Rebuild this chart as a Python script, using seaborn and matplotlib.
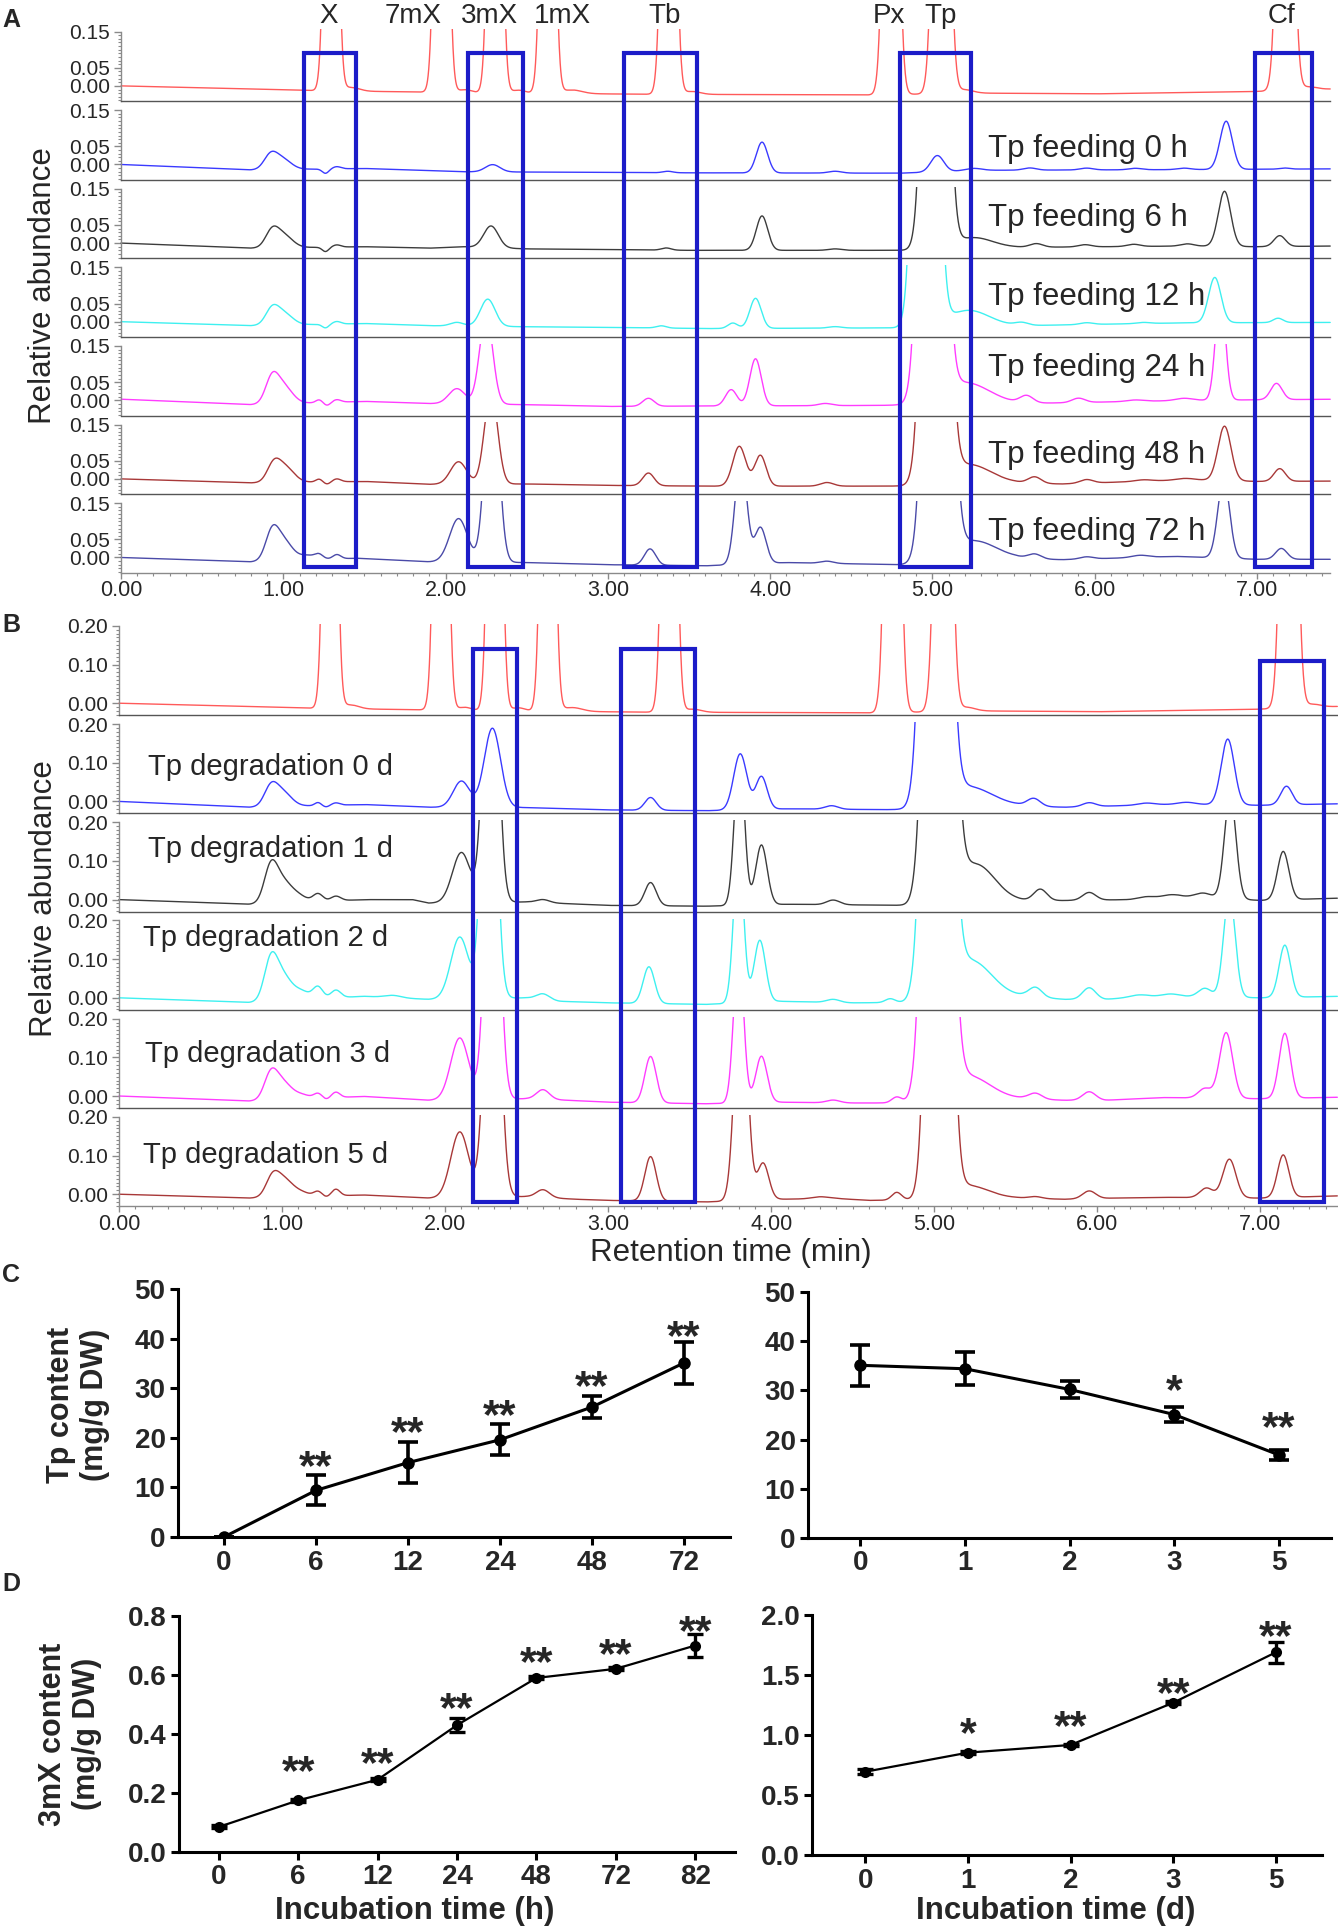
"""
Tp feeding / degradation chromatograms (A, B) and Tp / 3mX content time courses (C, D).
"""
import matplotlib
matplotlib.use("Agg")  # Non-interactive backend
import matplotlib.pyplot as plt
import matplotlib.transforms as mtransforms
from matplotlib.patches import Rectangle
from matplotlib.ticker import FixedLocator
import numpy as np
import seaborn as sns

sns.set_theme(style="ticks")
plt.rcParams["font.family"] = ["Liberation Sans", "DejaVu Sans"]

W, H = 1338, 1932

# ---------------------------------------------------------------- data ----
RT = np.linspace(0, 7.5, 4000)  # retention time grid (min)

# peak labels above panel A (retention time, label)
PEAK_NAMES = ["X", "7mX", "3mX", "1mX", "Tb", "Px", "Tp", "Cf"]
PEAK_NAME_RT = [1.28, 1.80, 2.27, 2.72, 3.35, 4.73, 5.05, 7.15]

# baselines: (rt, value) ; peaks: (rt, height, width)
STD_BASE = [(0, 0.0), (1.2, -0.013), (2.0, -0.018), (3.2, -0.023), (4.6, -0.025),
            (5.3, -0.020), (6.0, -0.022), (6.95, -0.016), (7.5, -0.008)]
STD_PEAKS = [(1.295, 2.0, 0.029), (1.42, 0.010, 0.05), (1.975, 2.0, 0.030), (2.12, 0.008, 0.04),
             (2.305, 2.0, 0.030), (2.45, 0.008, 0.04), (2.63, 2.0, 0.030), (2.78, 0.010, 0.06),
             (3.375, 2.0, 0.031), (3.52, 0.008, 0.05), (4.745, 2.0, 0.033), (5.055, 2.0, 0.036),
             (5.2, 0.010, 0.05), (7.175, 2.0, 0.035), (7.32, 0.008, 0.05)]

F0_BASE = [(0, 0.0), (0.8, -0.015), (1.5, -0.011), (2.1, -0.020), (3.5, -0.023), (4.8, -0.024),
           (5.3, -0.016), (6.6, -0.014), (7.5, -0.012)]
F0_PEAKS = [(0.92, 0.035, 0.04), (0.99, 0.030, 0.055), (1.26, -0.012, 0.02), (1.33, 0.006, 0.025),
            (2.29, 0.020, 0.045), (3.37, 0.004, 0.03), (3.95, 0.085, 0.035), (4.40, 0.005, 0.04),
            (5.03, 0.045, 0.04), (5.25, 0.006, 0.05), (5.60, 0.006, 0.04), (5.95, 0.005, 0.04),
            (6.25, 0.004, 0.04), (6.55, 0.004, 0.04), (6.81, 0.133, 0.038), (7.17, 0.003, 0.03)]

F6_BASE = [(0, 0.0), (0.8, -0.014), (1.5, -0.010), (1.9, -0.014), (2.1, -0.010), (2.5, -0.016),
           (3.5, -0.020), (4.8, -0.020), (5.5, -0.012), (6.6, -0.008), (7.0, -0.010), (7.5, -0.008)]
F6_PEAKS = [(0.93, 0.042, 0.04), (1.0, 0.035, 0.055), (1.26, -0.012, 0.02), (1.33, 0.006, 0.025),
            (2.28, 0.060, 0.045), (3.36, 0.006, 0.03), (3.95, 0.095, 0.035), (4.40, 0.004, 0.04),
            (5.02, 3.0, 0.049), (5.25, 0.030, 0.12), (5.64, 0.010, 0.04), (5.94, 0.006, 0.04),
            (6.24, 0.006, 0.04), (6.57, 0.006, 0.04), (6.80, 0.152, 0.038), (7.14, 0.030, 0.035)]

F12_BASE = [(0, 0.0), (0.8, -0.011), (1.5, -0.005), (1.9, -0.011), (2.5, -0.014), (3.1, -0.016),
            (3.6, -0.019), (4.8, -0.017), (5.8, -0.009), (6.3, -0.005), (6.6, -0.003), (7.5, -0.002)]
F12_PEAKS = [(0.93, 0.040, 0.04), (1.0, 0.033, 0.055), (1.26, -0.010, 0.02), (1.33, 0.007, 0.025),
             (2.07, 0.010, 0.04), (2.26, 0.075, 0.045), (3.33, 0.006, 0.03), (3.77, 0.015, 0.03),
             (3.91, 0.083, 0.035), (4.40, 0.004, 0.04), (4.96, 3.0, 0.049), (5.22, 0.045, 0.13),
             (5.55, 0.008, 0.04), (5.95, 0.005, 0.04), (6.30, 0.003, 0.04), (6.74, 0.125, 0.038),
             (7.13, 0.012, 0.03)]

F24_BASE = [(0, 0.003), (0.8, -0.012), (1.5, -0.003), (1.9, -0.009), (2.5, -0.012), (3.0, -0.017),
            (3.5, -0.016), (4.8, -0.014), (5.8, -0.007), (6.6, 0.0), (7.5, 0.003)]
F24_PEAKS = [(0.93, 0.065, 0.04), (1.0, 0.048, 0.055), (1.22, 0.008, 0.02), (1.27, -0.008, 0.02),
             (1.33, 0.007, 0.025), (2.07, 0.042, 0.05), (2.25, 0.25, 0.04), (3.25, 0.022, 0.035),
             (3.76, 0.045, 0.035), (3.91, 0.130, 0.035), (4.34, 0.006, 0.04), (5.0, 3.0, 0.053),
             (5.2, 0.060, 0.15), (5.58, 0.020, 0.04), (5.90, 0.012, 0.04), (6.25, 0.004, 0.05),
             (6.55, 0.006, 0.05), (6.775, 0.30, 0.03), (7.12, 0.045, 0.035)]

F48_BASE = [(0, 0.0), (0.8, -0.011), (1.5, -0.007), (1.9, -0.015), (2.5, -0.014), (3.0, -0.018),
            (3.6, -0.020), (4.8, -0.020), (5.5, -0.012), (5.8, -0.014), (6.6, -0.002), (7.0, -0.007),
            (7.5, -0.006)]
F48_PEAKS = [(0.94, 0.045, 0.04), (1.01, 0.042, 0.055), (1.22, 0.008, 0.02), (1.27, -0.006, 0.02),
             (1.33, 0.008, 0.025), (2.08, 0.062, 0.05), (2.28, 0.26, 0.04), (3.25, 0.035, 0.035),
             (3.81, 0.110, 0.04), (3.94, 0.085, 0.035), (4.35, 0.010, 0.04), (5.02, 3.0, 0.053),
             (5.22, 0.055, 0.14), (5.63, 0.018, 0.04), (5.95, 0.010, 0.04), (6.30, 0.004, 0.05),
             (6.55, 0.004, 0.05), (6.80, 0.150, 0.04), (7.14, 0.035, 0.035)]

F72_BASE = [(0, 0.0), (0.8, -0.012), (1.45, -0.002), (1.9, -0.012), (2.5, -0.014), (3.0, -0.020),
            (3.6, -0.023), (4.1, -0.014), (4.8, -0.020), (5.5, -0.003), (5.8, -0.006), (6.5, 0.003),
            (7.0, -0.005), (7.5, -0.005)]
F72_PEAKS = [(0.93, 0.072, 0.04), (1.0, 0.055, 0.055), (1.15, 0.012, 0.05), (1.22, 0.012, 0.025),
             (1.33, 0.012, 0.025), (2.08, 0.120, 0.055), (2.285, 0.58, 0.04), (3.26, 0.045, 0.035),
             (3.82, 0.30, 0.035), (3.94, 0.100, 0.035), (4.35, 0.006, 0.04), (5.035, 3.0, 0.055),
             (5.25, 0.055, 0.14), (5.63, 0.013, 0.04), (5.95, 0.006, 0.04), (6.28, 0.006, 0.05),
             (6.795, 0.22, 0.036), (7.15, 0.030, 0.035)]

D0_BASE = [(0, 0.0), (0.8, -0.015), (1.5, -0.008), (1.9, -0.015), (2.5, -0.016), (3.0, -0.022),
           (3.6, -0.024), (4.1, -0.019), (4.85, -0.022), (5.5, -0.012), (5.8, -0.015), (6.5, -0.007),
           (7.0, -0.010), (7.5, -0.006)]
D0_PEAKS = [(0.93, 0.045, 0.04), (1.0, 0.038, 0.055), (1.22, 0.008, 0.02), (1.27, -0.004, 0.02),
            (1.33, 0.006, 0.025), (2.10, 0.068, 0.05), (2.29, 0.205, 0.05), (3.26, 0.033, 0.035),
            (3.81, 0.145, 0.04), (3.94, 0.085, 0.035), (4.37, 0.009, 0.04), (5.01, 3.0, 0.056),
            (5.2, 0.055, 0.15), (5.61, 0.020, 0.04), (5.95, 0.010, 0.04), (6.30, 0.005, 0.05),
            (6.55, 0.005, 0.05), (6.80, 0.170, 0.04), (7.16, 0.048, 0.035)]

D1_BASE = [(0, 0.0), (0.8, -0.012), (1.5, 0.0), (1.8, 0.0), (1.9, -0.009), (2.5, -0.006),
           (3.0, -0.015), (3.6, -0.017), (4.1, -0.012), (4.85, -0.015), (5.5, -0.004), (6.2, 0.0),
           (6.5, 0.008), (7.0, -0.002), (7.5, 0.004)]
D1_PEAKS = [(0.93, 0.085, 0.04), (1.0, 0.055, 0.055), (1.1, 0.015, 0.05), (1.22, 0.020, 0.03),
            (1.33, 0.012, 0.03), (2.10, 0.130, 0.055), (2.28, 0.95, 0.04), (2.60, 0.008, 0.04),
            (3.26, 0.060, 0.035), (3.805, 0.40, 0.03), (3.94, 0.155, 0.035), (4.38, 0.012, 0.04),
            (5.03, 3.0, 0.058), (5.25, 0.100, 0.12), (5.65, 0.030, 0.04), (5.95, 0.020, 0.04),
            (6.30, 0.005, 0.05), (6.45, 0.006, 0.05), (6.65, 0.012, 0.05), (6.815, 0.27, 0.035),
            (7.14, 0.125, 0.035)]

D2_BASE = [(0, 0.0), (0.8, -0.012), (1.5, 0.004), (1.9, -0.004), (2.5, 0.0), (2.7, -0.009),
           (3.0, -0.013), (3.6, -0.017), (4.05, -0.009), (4.5, -0.013), (4.85, -0.012), (5.55, 0.004),
           (5.8, -0.004), (6.05, -0.004), (6.3, 0.004), (6.5, 0.004), (7.0, 0.0), (7.5, 0.004)]
D2_PEAKS = [(0.93, 0.095, 0.04), (1.0, 0.065, 0.055), (1.12, 0.020, 0.05), (1.22, 0.030, 0.03),
            (1.33, 0.020, 0.03), (1.68, 0.006, 0.05), (2.09, 0.160, 0.055), (2.27, 0.95, 0.04),
            (2.60, 0.015, 0.04), (3.25, 0.095, 0.035), (3.80, 0.40, 0.03), (3.93, 0.160, 0.035),
            (4.38, 0.008, 0.04), (4.73, 0.010, 0.03), (5.02, 3.0, 0.058), (5.22, 0.100, 0.13),
            (5.62, 0.025, 0.04), (5.95, 0.030, 0.04), (6.25, 0.005, 0.05), (6.45, 0.006, 0.05),
            (6.66, 0.022, 0.04), (6.81, 0.27, 0.035), (7.15, 0.135, 0.035)]

D3_BASE = [(0, 0.0), (0.8, -0.013), (1.5, -0.001), (1.9, -0.011), (2.5, -0.007), (2.75, -0.011),
           (3.0, -0.016), (3.6, -0.020), (4.05, -0.016), (4.5, -0.018), (4.85, -0.018), (5.55, -0.007),
           (5.8, -0.011), (6.05, -0.011), (6.4, -0.004), (7.0, -0.007), (7.5, -0.003)]
D3_PEAKS = [(0.93, 0.060, 0.04), (1.0, 0.045, 0.055), (1.12, 0.010, 0.05), (1.22, 0.012, 0.025),
            (1.27, -0.004, 0.02), (1.33, 0.014, 0.025), (2.09, 0.160, 0.055), (2.29, 0.95, 0.04),
            (2.60, 0.025, 0.04), (3.26, 0.120, 0.035), (3.80, 0.40, 0.03), (3.94, 0.120, 0.035),
            (4.38, 0.007, 0.04), (4.77, 0.015, 0.03), (5.02, 3.0, 0.057), (5.2, 0.065, 0.14),
            (5.62, 0.015, 0.04), (5.95, 0.022, 0.04), (6.66, 0.025, 0.04), (6.79, 0.170, 0.04),
            (7.15, 0.168, 0.035)]

D5_BASE = [(0, 0.0), (0.8, -0.010), (1.5, -0.002), (1.9, -0.010), (2.5, -0.006), (2.8, -0.013),
           (3.0, -0.016), (3.6, -0.020), (4.05, -0.013), (4.4, -0.011), (4.6, -0.016), (4.85, -0.015),
           (5.5, -0.010), (5.8, -0.013), (6.1, -0.010), (6.4, -0.008), (7.0, -0.010), (7.5, -0.004)]
D5_PEAKS = [(0.94, 0.045, 0.04), (1.01, 0.045, 0.055), (1.12, 0.010, 0.05), (1.22, 0.012, 0.025),
            (1.27, -0.003, 0.02), (1.33, 0.017, 0.025), (2.09, 0.170, 0.055), (2.29, 0.95, 0.042),
            (2.60, 0.020, 0.04), (3.26, 0.115, 0.035), (3.815, 0.62, 0.037), (3.95, 0.095, 0.035),
            (4.30, 0.005, 0.05), (4.77, 0.020, 0.03), (5.03, 3.0, 0.05), (5.2, 0.035, 0.13),
            (5.62, 0.005, 0.04), (5.95, 0.020, 0.04), (6.67, 0.025, 0.04), (6.81, 0.100, 0.04),
            (7.14, 0.110, 0.035)]

FEED_LABELS = ["Tp feeding 0 h", "Tp feeding 6 h", "Tp feeding 12 h",
               "Tp feeding 24 h", "Tp feeding 48 h", "Tp feeding 72 h"]
FEED_LABEL_Y = [0.044, 0.069, 0.067, 0.089, 0.067, 0.069]
DEG_LABELS = ["Tp degradation 0 d", "Tp degradation 1 d", "Tp degradation 2 d",
              "Tp degradation 3 d", "Tp degradation 5 d"]
DEG_LABEL_X = [0.175, 0.175, 0.147, 0.16, 0.147]
DEG_LABEL_Y = [0.088, 0.130, 0.156, 0.109, 0.101]

FEED_COLORS = ["#ff5a5a", "#3a3aff", "#3c3c3c", "#3ef0f0", "#ff3cff", "#a83838", "#4a4aa8"]
DEG_COLORS = ["#ff5a5a", "#3a3aff", "#3c3c3c", "#3ef0f0", "#ff3cff", "#a83838"]

# highlighted windows (rt start, rt end)
A_BOXES = [(1.13, 1.45), (2.14, 2.48), (3.10, 3.55), (4.80, 5.24), (6.99, 7.34)]
B_BOXES = [(2.17, 2.44), (3.08, 3.53), (7.00, 7.39)]
B_BOX_TOP = [0.14, 0.14, 0.11]

# time courses: means, SD, significance
C_FEED_T = ["0", "6", "12", "24", "48", "72"]
C_FEED_MEAN = [0.0, 9.4, 15.0, 19.6, 26.2, 35.1]
C_FEED_SD = [0.0, 3.0, 4.2, 3.1, 2.3, 4.2]
C_FEED_SIG = ["", "**", "**", "**", "**", "**"]
C_FEED_SIG_Y = [0, 16.5, 23.4, 26.8, 32.7, 42.8]

C_DEG_T = ["0", "1", "2", "3", "5"]
C_DEG_MEAN = [35.1, 34.4, 30.2, 25.1, 16.9]
C_DEG_SD = [4.2, 3.4, 1.7, 1.6, 1.0]
C_DEG_SIG = ["", "", "", "*", "**"]
C_DEG_SIG_Y = [0, 0, 0, 32.4, 24.7]

D_FEED_T = ["0", "6", "12", "24", "48", "72", "82"]
D_FEED_MEAN = [0.085, 0.175, 0.245, 0.430, 0.590, 0.621, 0.700]
D_FEED_SD = [0.005, 0.006, 0.006, 0.024, 0.005, 0.005, 0.038]
D_FEED_SIG = ["", "**", "**", "**", "**", "**", "**"]
D_FEED_SIG_Y = [0, 0.313, 0.339, 0.527, 0.681, 0.709, 0.787]

D_DEG_T = ["0", "1", "2", "3", "5"]
D_DEG_MEAN = [0.694, 0.853, 0.917, 1.269, 1.689]
D_DEG_SD = [0.02, 0.01, 0.01, 0.012, 0.09]
D_DEG_SIG = ["", "*", "**", "**", "**"]
D_DEG_SIG_Y = [0, 1.11, 1.167, 1.444, 1.917]

BOX_COLOR = "#1c1cc8"


# ----------------------------------------------------------- helpers ----
def px_axes(fig, x0, y0, x1, y1):
    return fig.add_axes([x0 / W, 1 - y1 / H, (x1 - x0) / W, (y1 - y0) / H])


def build_trace(base, peaks):
    y = np.interp(RT, [b[0] for b in base], [b[1] for b in base])
    for rt, h, w in peaks:
        y = y + h * np.exp(-0.5 * ((RT - rt) / w) ** 2)
    return y


def yfrac(ax, v):
    pos = ax.get_position()
    lo, hi = ax.get_ylim()
    return pos.y0 + (v - lo) / (hi - lo) * pos.height


def draw_block(fig, top, row_h, x0, x1, xmax, ylim, clip, majors, traces, colors):
    axes = []
    n = len(traces)
    for i, (y, color) in enumerate(zip(traces, colors)):
        ax = px_axes(fig, x0, top + i * row_h, x1, top + (i + 1) * row_h)
        ax.patch.set_alpha(0)
        sns.lineplot(x=RT, y=y, ax=ax, color=color, linewidth=1.0, estimator=None)
        ax.lines[-1].set_clip_path(
            Rectangle((-1, -1), 20, 1 + clip, transform=ax.transData))
        ax.set_xlim(0, xmax)
        ax.set_ylim(*ylim)
        ax.set_xlabel("")
        ax.set_ylabel("")
        for s in ("top", "right"):
            ax.spines[s].set_visible(False)
        ax.spines["left"].set_color("#8a8a8a")
        ax.spines["left"].set_linewidth(1.0)
        ax.spines["left"].set_bounds(ylim[0], majors[-1])
        ax.spines["bottom"].set_color("#555555")
        ax.spines["bottom"].set_linewidth(1.0)
        ax.set_yticks(majors)
        ax.set_yticklabels([f"{v:.2f}" for v in majors])
        minor = [k / 100 for k in range(int(np.ceil(ylim[0] * 100)), int(round(majors[-1] * 100)) + 1)]
        ax.yaxis.set_minor_locator(FixedLocator(minor))
        ax.tick_params(axis="y", which="major", direction="out", length=5, width=1.0,
                       color="#8a8a8a", labelsize=15, pad=3, left=True)
        ax.tick_params(axis="y", which="minor", direction="out", length=2.5, width=0.8,
                       color="#8a8a8a", left=True)
        if i == n - 1:
            ax.set_xticks(range(8))
            ax.set_xticklabels([f"{v:.2f}" for v in range(8)])
            ax.xaxis.set_minor_locator(FixedLocator([k / 10 for k in range(0, 75)]))
            ax.tick_params(axis="x", which="major", direction="out", length=4, width=1.0,
                           color="#8a8a8a", labelsize=15.5, pad=1.5, bottom=True)
            ax.tick_params(axis="x", which="minor", direction="out", length=2.5, width=0.8,
                           color="#8a8a8a", bottom=True)
            ax.spines["bottom"].set_color("#8a8a8a")
        else:
            ax.tick_params(axis="x", which="both", bottom=False, labelbottom=False)
        axes.append(ax)
    return axes


def draw_course(ax, labels, means, sds, sig, sig_y, ylim, yticks, yfmt, lw, ms, elw, cap):
    pos = np.arange(len(labels))
    sns.lineplot(x=pos, y=means, ax=ax, color="black", linewidth=lw, marker="o",
                 markersize=ms, markeredgewidth=0, estimator=None)
    ax.errorbar(pos, means, yerr=sds, fmt="none", ecolor="black", elinewidth=elw,
                capsize=cap, capthick=elw, zorder=3)
    for x, s, yv in zip(pos, sig, sig_y):
        if s:
            ax.annotate(s, (x, yv), xytext=(0, -0.56 * 31), textcoords="offset points",
                        ha="center", va="baseline", fontsize=31, fontweight="bold",
                        annotation_clip=False)
    ax.set_xlim(-0.5, len(labels) - 0.5)
    ax.set_ylim(*ylim)
    ax.set_xticks(pos)
    ax.set_xticklabels(labels, fontsize=20, fontweight="bold")
    ax.set_yticks(yticks)
    ax.set_yticklabels([yfmt.format(v) for v in yticks], fontsize=20, fontweight="bold")
    ax.set_xlabel("")
    ax.set_ylabel("")
    for s in ("top", "right"):
        ax.spines[s].set_visible(False)
    for s in ("left", "bottom"):
        ax.spines[s].set_color("black")
        ax.spines[s].set_linewidth(2.2)
    ax.tick_params(axis="both", which="major", direction="out", length=6, width=2.2,
                   color="black", pad=3, left=True, bottom=True)
    ax.patch.set_alpha(0)


# -------------------------------------------------------------- figure ----
fig = plt.figure(figsize=(W / 100, H / 100), dpi=100)

# panel A: Tp feeding
feed_traces = [build_trace(STD_BASE, STD_PEAKS)] + [
    build_trace(b, p) for b, p in [(F0_BASE, F0_PEAKS), (F6_BASE, F6_PEAKS), (F12_BASE, F12_PEAKS),
                                   (F24_BASE, F24_PEAKS), (F48_BASE, F48_PEAKS), (F72_BASE, F72_PEAKS)]]
a_axes = draw_block(fig, 22.5, 78.6, 121, 1330, 7.45, (-0.042, 0.175), 0.156,
                    [0.0, 0.05, 0.15], feed_traces, FEED_COLORS)
for ax, lab, ly in zip(a_axes[1:], FEED_LABELS, FEED_LABEL_Y):
    ax.text(5.34, ly, lab, fontsize=22.5, ha="left", va="center", zorder=5)

# panel B: Tp degradation
deg_traces = [build_trace(STD_BASE, STD_PEAKS)] + [
    build_trace(b, p) for b, p in [(D0_BASE, D0_PEAKS), (D1_BASE, D1_PEAKS), (D2_BASE, D2_PEAKS),
                                   (D3_BASE, D3_PEAKS), (D5_BASE, D5_PEAKS)]]
b_axes = draw_block(fig, 617, 98.2, 119, 1337, 7.47, (-0.031, 0.223), 0.205,
                    [0.0, 0.10, 0.20], deg_traces, DEG_COLORS)
for ax, lab, lx, ly in zip(b_axes[1:], DEG_LABELS, DEG_LABEL_X, DEG_LABEL_Y):
    ax.text(lx, ly, lab, fontsize=21, ha="left", va="center", zorder=5)

# highlight windows
trans_a = mtransforms.blended_transform_factory(a_axes[-1].transData, fig.transFigure)
ya_top, ya_bot = yfrac(a_axes[0], 0.092), yfrac(a_axes[-1], -0.025)
for x0, x1 in A_BOXES:
    fig.add_artist(Rectangle((x0, ya_bot), x1 - x0, ya_top - ya_bot, transform=trans_a,
                             fill=False, ec=BOX_COLOR, lw=3, zorder=10))
trans_b = mtransforms.blended_transform_factory(b_axes[-1].transData, fig.transFigure)
yb_bot = yfrac(b_axes[-1], -0.021)
for (x0, x1), top in zip(B_BOXES, B_BOX_TOP):
    yt = yfrac(b_axes[0], top)
    fig.add_artist(Rectangle((x0, yb_bot), x1 - x0, yt - yb_bot, transform=trans_b,
                             fill=False, ec=BOX_COLOR, lw=3, zorder=10))

# compound names above A
for name, rt in zip(PEAK_NAMES, PEAK_NAME_RT):
    fig.text(rt, 1 - 23 / H, name, transform=trans_a, fontsize=20, ha="center", va="baseline")

fig.text(43 / W, 1 - 286 / H, "Relative abundance", rotation=90, fontsize=22.5,
         ha="center", va="center")
fig.text(44 / W, 1 - 899 / H, "Relative abundance", rotation=90, fontsize=22.5,
         ha="center", va="center")
fig.text(731 / W, 1 - 1253 / H, "Retention time (min)", fontsize=22.5, ha="center", va="center")

# panels C and D
ax_c1 = px_axes(fig, 178, 1289, 730, 1537)
draw_course(ax_c1, C_FEED_T, C_FEED_MEAN, C_FEED_SD, C_FEED_SIG, C_FEED_SIG_Y,
            (0, 50), [0, 10, 20, 30, 40, 50], "{:.0f}", 2.2, 9, 2.6, 7)
ax_c2 = px_axes(fig, 808, 1292, 1331, 1538)
draw_course(ax_c2, C_DEG_T, C_DEG_MEAN, C_DEG_SD, C_DEG_SIG, C_DEG_SIG_Y,
            (0, 50), [0, 10, 20, 30, 40, 50], "{:.0f}", 2.2, 9, 2.6, 7)
ax_d1 = px_axes(fig, 179, 1616, 735, 1852)
draw_course(ax_d1, D_FEED_T, D_FEED_MEAN, D_FEED_SD, D_FEED_SIG, D_FEED_SIG_Y,
            (0, 0.8), [0.0, 0.2, 0.4, 0.6, 0.8], "{:.1f}", 1.6, 8, 2.4, 6)
ax_d2 = px_axes(fig, 812, 1615, 1322, 1855)
draw_course(ax_d2, D_DEG_T, D_DEG_MEAN, D_DEG_SD, D_DEG_SIG, D_DEG_SIG_Y,
            (0, 2.0), [0.0, 0.5, 1.0, 1.5, 2.0], "{:.1f}", 1.6, 8, 2.4, 6)
ax_d2.set_xlim(-0.52, 4.45)

fig.text(78 / W, 1 - 1405 / H, "Tp content\n(mg/g DW)", rotation=90, fontsize=22,
         fontweight="bold", ha="center", va="center", linespacing=1.2, multialignment="center")
fig.text(70 / W, 1 - 1734 / H, "3mX content\n(mg/g DW)", rotation=90, fontsize=22,
         fontweight="bold", ha="center", va="center", linespacing=1.2, multialignment="center")
fig.text(415 / W, 1 - 1911 / H, "Incubation time (h)", fontsize=22.5, fontweight="bold",
         ha="center", va="center")
fig.text(1056 / W, 1 - 1911 / H, "Incubation time (d)", fontsize=22.5, fontweight="bold",
         ha="center", va="center")

# panel letters
for letter, (lx, ly) in zip("ABCD", [(11, 20), (11, 625), (11, 1275), (11, 1584)]):
    fig.text(lx / W, 1 - ly / H, letter, fontsize=18, fontweight="bold", ha="center", va="center")

fig.savefig("out.png", dpi=100)
